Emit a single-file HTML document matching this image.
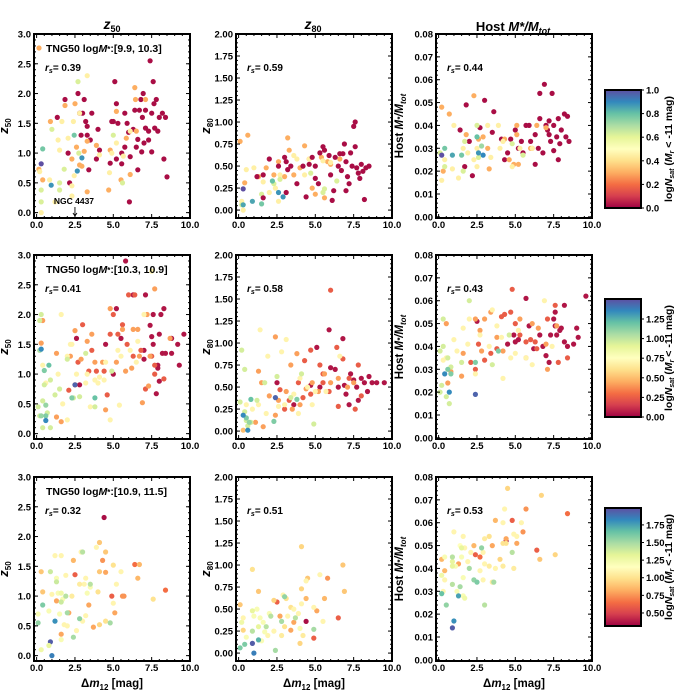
<!DOCTYPE html>
<html><head><meta charset="utf-8"><style>
html,body{margin:0;padding:0;background:#fff}
svg{display:block}
text{font-family:"Liberation Sans","DejaVu Sans",sans-serif;font-weight:bold;fill:#000}
</style></head><body>
<svg id="fig" width="696" height="696" viewBox="0 0 696 696" xmlns="http://www.w3.org/2000/svg"></svg>
<script>
// ---------- data ----------
const xTicks=[0,2.5,5,7.5,10];
const xTickLabels=["0.0","2.5","5.0","7.5","10.0"];
const z50Ticks=[0,0.5,1,1.5,2,2.5,3];
const z50Labels=["0.0","0.5","1.0","1.5","2.0","2.5","3.0"];
const z80Ticks=[0,0.25,0.5,0.75,1,1.25,1.5,1.75,2];
const z80Labels=["0.00","0.25","0.50","0.75","1.00","1.25","1.50","1.75","2.00"];
const fTicks=[0,0.01,0.02,0.03,0.04,0.05,0.06,0.07,0.08];
const fLabels=["0.00","0.01","0.02","0.03","0.04","0.05","0.06","0.07","0.08"];
const rowLabels=["TNG50 logM*:[9.9, 10.3]","TNG50 logM*:[10.3, 10.9]","TNG50 logM*:[10.9, 11.5]"];
const rsValues=[["0.39","0.59","0.44"],["0.41","0.58","0.43"],["0.32","0.51","0.53"]];
const cbarMin=[0,0,0.315];
const cbarMax=[1.0,1.505,1.99];
const cbarTicks=[[0,0.2,0.4,0.6,0.8,1.0],[0,0.25,0.5,0.75,1.0,1.25],[0.5,0.75,1.0,1.25,1.5,1.75]];
const cbarTickLabels=[["0.0","0.2","0.4","0.6","0.8","1.0"],["0.00","0.25","0.50","0.75","1.00","1.25"],["0.50","0.75","1.00","1.25","1.50","1.75"]];

// row 1 points [dm12, value, logNsat]
const r1z50=[[1.35,1.6,0.02],[1.85,1.9,0.02],[2.05,1.0,0.02],[2.7,2.0,0.02],[2.8,1.67,0.02],[3.0,1.67,0.02],[3.1,1.9,0.02],[3.2,1.53,0.02],[3.3,1.45,0.02],[3.6,1.67,0.02],[2.9,1.3,0.02],[3.3,1.3,0.02],[3.5,1.22,0.02],[3.4,0.72,0.02],[3.9,0.9,0.02],[4.0,1.4,0.02],[4.1,1.05,0.02],[4.8,0.83,0.02],[4.9,1.53,0.02],[5.1,2.2,0.02],[5.2,1.83,0.02],[5.0,1.53,0.02],[5.3,1.5,0.02],[5.55,1.0,0.02],[5.75,1.67,0.02],[5.9,1.5,0.02],[6.0,1.35,0.02],[6.05,0.18,0.02],[6.1,0.94,0.02],[6.3,1.4,0.02],[6.4,1.72,0.02],[6.5,1.1,0.02],[6.6,1.23,0.02],[6.7,1.72,0.02],[6.8,1.9,0.02],[6.9,1.6,0.02],[6.95,2.0,0.02],[7.0,1.17,0.02],[7.1,1.72,0.02],[7.1,1.42,0.02],[7.3,1.37,0.02],[7.4,2.55,0.02],[7.5,1.67,0.02],[7.6,2.2,0.02],[7.65,1.83,0.02],[7.7,1.42,0.02],[7.8,1.9,0.02],[7.9,1.37,0.02],[8.0,1.6,0.02],[8.2,1.67,0.02],[8.3,0.9,0.02],[8.4,1.6,0.02],[8.5,0.6,0.02],[6.6,0.72,0.02],[6.85,1.02,0.02],[5.55,0.82,0.02],[5.75,1.1,0.02],[2.15,0.5,0.02],[7.3,1.22,0.02],[7.5,1.02,0.02],[5.2,0.9,0.02],
[0.15,0.73,0.3],[0.4,0.55,0.3],[0.9,1.53,0.3],[1.85,1.8,0.3],[2.5,1.83,0.3],[2.6,1.1,0.3],[2.95,0.78,0.3],[3.3,1.2,0.3],[3.3,0.35,0.3],[3.9,1.13,0.3],[4.7,0.38,0.3],[5.2,1.7,0.3],[5.85,1.25,0.3],[6.1,0.64,0.3],[6.4,2.1,0.3],[6.5,1.37,0.3],[7.1,1.9,0.3],[6.45,1.9,0.3],[5.5,0.55,0.3],[2.3,0.9,0.3],[2.8,0.8,0.3],[3.1,1.03,0.3],[4.8,1.05,0.3],
[0.2,0.69,0.45],[0.3,0.0,0.45],[0.85,0.55,0.45],[1.4,1.22,0.45],[1.5,1.05,0.45],[1.65,1.53,0.45],[2.05,1.25,0.45],[2.3,0.45,0.45],[2.4,1.53,0.45],[2.8,1.67,0.45],[3.3,2.3,0.45],[4.1,0.97,0.45],[4.75,0.67,0.45],[4.9,1.0,0.45],[5.2,1.17,0.45],[5.65,0.95,0.45],[6.1,1.37,0.45],[1.2,0.18,0.45],[2.3,0.28,0.45],[2.45,0.62,0.45],
[0.3,0.18,0.62],[0.3,0.38,0.62],[1.0,1.4,0.62],[1.5,0.5,0.62],[1.8,0.73,0.62],[2.7,2.2,0.62],[2.75,1.0,0.62],[5.0,1.3,0.62],[5.6,0.5,0.62],[1.5,0.38,0.62],
[0.4,1.07,0.78],[2.45,1.3,0.78],[0.95,0.46,0.88],[2.95,0.92,0.88],[2.65,0.7,0.88],[0.3,0.82,1.0]];
const r1z80=[[0.1,0.78,0.3],[0.6,0.85,0.3],[0.4,0.31,0.3],[1.3,0.38,0.3],[1.8,0.48,0.3],[2.3,0.4,0.3],[2.6,0.55,0.3],[3.2,0.82,0.3],[3.0,0.38,0.3],[3.3,0.68,0.3],[4.0,0.48,0.3],[4.3,0.73,0.3],[4.8,0.25,0.3],[5.0,0.18,0.3],[5.4,0.6,0.3],[5.8,0.55,0.3],[6.0,0.52,0.3],[5.6,0.14,0.3],[4.6,0.58,0.3],[3.6,0.4,0.3],[6.6,0.58,0.3],
[0.3,0.0,0.45],[0.5,0.46,0.45],[1.0,0.48,0.45],[1.6,0.32,0.45],[2.0,0.2,0.45],[2.4,0.25,0.45],[2.7,0.4,0.45],[3.6,0.62,0.45],[4.3,0.4,0.45],[4.6,0.58,0.45],[5.5,0.56,0.45],[6.0,0.54,0.45],[2.6,0.1,0.45],[0.2,0.1,0.45],[3.8,0.58,0.45],
[0.2,0.06,0.62],[1.5,0.18,0.62],[2.3,0.3,0.62],[2.7,0.35,0.62],[5.5,0.2,0.62],[5.6,0.24,0.62],[6.4,0.33,0.62],[4.7,0.42,0.62],
[0.9,0.1,0.85],[2.2,0.33,0.8],[2.6,0.2,0.88],[2.9,0.15,0.88],[0.3,0.06,0.85],[1.5,0.07,0.78],[0.3,0.24,1.0],
[1.2,0.38,0.02],[1.6,0.4,0.02],[1.6,0.14,0.02],[2.0,0.58,0.02],[2.6,0.5,0.02],[3.0,0.6,0.02],[3.1,0.55,0.02],[3.2,0.46,0.02],[3.1,0.2,0.02],[3.4,0.5,0.02],[3.8,0.3,0.02],[4.2,0.5,0.02],[4.6,0.52,0.02],[4.8,0.6,0.02],[5.0,0.5,0.02],[5.3,0.65,0.02],[5.5,0.72,0.02],[5.6,0.68,0.02],[5.9,0.62,0.02],[6.0,0.4,0.02],[6.1,0.11,0.02],[6.3,0.6,0.02],[6.5,0.5,0.02],[6.6,0.64,0.02],[6.7,0.45,0.02],[6.8,0.64,0.02],[7.0,0.55,0.02],[7.1,0.38,0.02],[7.2,0.3,0.02],[7.3,0.65,0.02],[7.4,0.5,0.02],[7.5,0.95,0.02],[7.6,1.0,0.02],[7.7,0.48,0.02],[7.8,0.42,0.02],[7.9,0.36,0.02],[8.0,0.52,0.02],[8.1,0.44,0.02],[8.2,0.12,0.02],[8.3,0.48,0.02],[8.5,0.5,0.02],[6.9,0.75,0.02],[7.6,0.72,0.02],[5.2,0.3,0.02],[6.2,0.22,0.02],[7.0,0.22,0.02],[5.0,0.36,0.02],[4.4,0.15,0.02]];
const r1frac=[[1.4,0.038,0.02],[1.8,0.049,0.02],[2.0,0.033,0.02],[2.2,0.018,0.02],[3.0,0.051,0.02],[3.5,0.037,0.02],[3.6,0.046,0.02],[4.1,0.034,0.02],[4.3,0.025,0.02],[4.7,0.034,0.02],[5.0,0.038,0.02],[5.2,0.03,0.02],[5.5,0.028,0.02],[5.7,0.04,0.02],[5.9,0.04,0.02],[6.3,0.023,0.02],[6.3,0.036,0.02],[6.6,0.043,0.02],[6.6,0.054,0.02],[6.9,0.058,0.02],[7.0,0.04,0.02],[7.1,0.038,0.02],[7.2,0.036,0.02],[7.3,0.033,0.02],[7.4,0.054,0.02],[7.5,0.04,0.02],[7.5,0.029,0.02],[7.7,0.035,0.02],[7.8,0.043,0.02],[7.8,0.025,0.02],[7.9,0.032,0.02],[8.0,0.038,0.02],[8.2,0.045,0.02],[8.4,0.044,0.02],[8.5,0.033,0.02],[8.3,0.035,0.02],[6.8,0.028,0.02],[6.5,0.03,0.02],[7.2,0.042,0.02],[6.0,0.033,0.02],[5.4,0.033,0.02],[4.5,0.028,0.02],[1.7,0.022,0.02],[2.7,0.039,0.02],
[0.2,0.048,0.3],[0.7,0.045,0.3],[2.3,0.053,0.3],[1.8,0.036,0.3],[2.6,0.034,0.3],[2.9,0.035,0.3],[3.3,0.021,0.3],[3.2,0.03,0.3],[4.3,0.034,0.3],[4.6,0.025,0.3],[5.1,0.04,0.3],[5.1,0.036,0.3],[5.2,0.023,0.3],[4.9,0.023,0.3],[6.1,0.03,0.3],[6.4,0.04,0.3],[7.0,0.039,0.3],[6.0,0.03,0.3],[0.3,0.02,0.3],
[0.2,0.016,0.45],[0.4,0.025,0.45],[1.0,0.04,0.45],[1.6,0.03,0.45],[1.9,0.028,0.45],[2.3,0.025,0.45],[2.5,0.022,0.45],[2.5,0.03,0.45],[3.2,0.04,0.45],[3.9,0.04,0.45],[4.2,0.033,0.45],[4.8,0.022,0.45],[5.3,0.03,0.45],[6.1,0.03,0.45],[0.9,0.021,0.45],[1.3,0.017,0.45],[3.4,0.026,0.45],[4.0,0.03,0.45],
[0.1,0.028,0.62],[1.6,0.02,0.62],[1.7,0.033,0.62],[2.5,0.04,0.62],[5.5,0.027,0.62],[4.8,0.032,0.62],[0.4,0.022,0.62],[2.6,0.026,0.62],
[0.4,0.03,0.78],[1.5,0.027,0.78],[2.5,0.035,0.8],[2.8,0.031,0.72],[2.6,0.028,0.88],[2.9,0.027,0.9],[0.9,0.027,0.85],[0.2,0.027,1.0]];

const r2z50=[[2.6,1.6,0.05],[2.8,0.82,0.05],[4.5,1.5,0.05],[5.2,2.1,0.05],[5.0,1.0,0.05],[5.5,1.6,0.05],[5.8,2.9,0.05],[6.3,2.33,0.05],[7.1,2.33,0.05],[7.0,1.4,0.05],[7.4,1.82,0.05],[7.5,1.63,0.05],[7.6,2.0,0.05],[7.6,1.5,0.05],[7.8,0.67,0.05],[7.9,1.1,0.05],[8.0,1.67,0.05],[8.0,0.88,0.05],[8.1,2.0,0.05],[8.2,1.35,0.05],[8.3,2.1,0.05],[8.4,1.35,0.05],[8.8,1.35,0.05],[8.8,1.6,0.05],[9.2,1.5,0.05],[9.3,1.15,0.05],[9.6,1.67,0.05],[7.9,1.15,0.05],[7.0,1.25,0.05],
[2.5,0.82,0.25],[2.7,1.2,0.25],[3.0,1.83,0.25],[3.9,1.05,0.25],[4.4,1.05,0.25],[4.8,1.67,0.25],[4.6,0.65,0.25],[5.0,2.0,0.25],[5.3,1.67,0.25],[5.6,1.83,0.25],[5.9,1.5,0.25],[6.0,2.33,0.25],[6.4,2.33,0.25],[6.8,1.4,0.25],[7.1,0.75,0.25],[7.5,1.3,0.25],[7.7,1.0,0.25],[8.3,0.92,0.25],[3.4,1.05,0.25],[6.3,1.3,0.25],[2.1,0.73,0.25],[3.6,1.4,0.25],[7.7,1.15,0.25],
[0.3,1.52,0.42],[1.3,1.35,0.42],[2.5,1.73,0.42],[2.9,1.25,0.42],[3.3,1.55,0.42],[3.6,1.67,0.42],[4.3,1.2,0.42],[4.5,0.4,0.42],[4.8,2.1,0.42],[5.2,1.2,0.42],[5.6,1.75,0.42],[6.3,1.75,0.42],[6.6,1.75,0.42],[6.7,1.3,0.42],[7.2,2.0,0.42],[7.4,1.3,0.42],[7.7,2.43,0.42],[8.7,1.6,0.42],[6.9,0.52,0.42],[7.3,0.8,0.42],[1.3,0.28,0.42],[1.6,0.2,0.42],[0.4,1.9,0.42],[3.8,1.2,0.42],[2.2,1.3,0.42],[6.2,1.1,0.42],[5.8,1.05,0.42],
[0.4,1.15,0.7],[1.6,2.0,0.7],[2.0,1.3,0.7],[2.2,1.5,0.7],[2.6,1.0,0.7],[3.2,0.85,0.7],[3.8,0.9,0.7],[4.1,0.95,0.7],[4.5,1.2,0.7],[5.5,1.3,0.7],[6.1,1.4,0.7],[6.6,1.55,0.7],[7.0,2.0,0.7],[7.5,2.73,0.7],[1.7,0.5,0.7],[2.0,0.23,0.7],[3.5,0.45,0.7],[4.8,0.23,0.7],[5.4,0.48,0.7],[1.4,1.0,0.7],[2.3,1.5,0.7],[3.3,1.0,0.7],[0.6,0.85,0.7],[4.0,0.85,0.7],[5.3,1.4,0.7],[6.5,1.2,0.7],[4.4,0.9,0.7],
[0.1,0.45,0.95],[0.2,1.9,0.95],[0.3,2.0,0.95],[0.4,0.55,0.95],[0.5,0.82,0.95],[0.9,0.9,0.95],[1.2,0.65,0.95],[1.5,0.75,0.95],[2.0,1.25,0.95],[2.4,0.6,0.95],[2.8,0.62,0.95],[3.2,1.35,0.95],[3.8,0.45,0.95],[4.9,1.05,0.95],[0.2,0.3,0.95],[0.7,0.35,0.95],[0.9,0.1,0.95],[0.4,0.1,0.95],
[0.5,1.06,1.15],[0.6,0.48,1.1],[0.6,0.3,1.15],[0.8,1.15,1.2],[2.3,0.6,1.15],[3.8,0.6,1.2],[0.3,0.3,1.1],[0.2,1.4,1.05],[0.3,1.42,1.35],[0.6,0.22,1.35],[2.5,0.82,1.45]];
const r2z80=[[2.5,0.55,0.05],[4.7,0.52,0.05],[5.1,0.95,0.05],[5.3,0.5,0.05],[5.9,1.15,0.05],[6.0,0.72,0.05],[6.3,0.7,0.05],[6.8,1.05,0.05],[6.9,0.52,0.05],[7.0,0.42,0.05],[7.3,0.65,0.05],[7.5,0.58,0.05],[7.7,0.5,0.05],[7.8,0.35,0.05],[8.0,0.6,0.05],[8.2,0.55,0.05],[8.4,0.45,0.05],[8.5,0.62,0.05],[8.7,0.55,0.05],[9.0,0.55,0.05],[9.5,0.55,0.05],[7.2,0.3,0.05],[6.5,0.5,0.05],[3.6,0.3,0.05],
[4.3,0.8,0.25],[4.7,0.92,0.25],[5.3,0.75,0.25],[5.5,0.55,0.25],[6.0,1.6,0.25],[6.4,0.95,0.25],[6.8,0.82,0.25],[7.2,0.6,0.25],[7.8,0.75,0.25],[3.9,0.55,0.25],[3.3,0.35,0.25],[2.7,0.47,0.25],[4.2,0.38,0.25],[4.7,0.42,0.25],[5.9,0.45,0.25],[6.5,0.28,0.25],[7.6,0.25,0.25],[8.0,0.4,0.25],[3.0,0.25,0.25],[5.5,0.65,0.25],
[1.3,0.68,0.42],[1.5,0.55,0.42],[2.4,1.07,0.42],[2.0,0.4,0.42],[2.6,0.35,0.42],[3.1,0.45,0.42],[3.4,0.75,0.42],[3.8,0.88,0.42],[4.0,0.3,0.42],[4.4,0.48,0.42],[4.8,0.55,0.42],[5.2,0.45,0.42],[5.6,0.65,0.42],[6.0,0.55,0.42],[6.5,0.6,0.42],[7.1,0.5,0.42],[1.6,0.05,0.42],[2.4,0.18,0.42],[1.1,0.1,0.42],[0.3,0.01,0.5],[3.5,0.25,0.42],[7.5,0.55,0.42],
[1.4,1.15,0.7],[1.9,0.85,0.7],[2.8,0.9,0.7],[3.1,1.04,0.7],[3.0,0.3,0.7],[3.6,0.42,0.7],[4.0,0.6,0.7],[4.5,0.5,0.7],[5.0,0.45,0.7],[5.7,0.45,0.7],[6.6,0.85,0.7],[1.3,0.3,0.7],[1.8,0.2,0.7],[2.6,0.28,0.7],[3.9,0.2,0.7],[0.5,0.3,0.7],[0.9,0.25,0.7],[4.8,0.3,0.7],
[0.2,0.92,0.95],[0.4,0.7,0.95],[1.7,0.55,0.95],[2.5,0.62,0.95],[3.4,0.38,0.95],[4.1,0.65,0.95],[4.9,0.08,0.95],[0.1,0.33,0.95],[0.5,0.12,0.95],[0.8,0.1,0.95],[0.4,0.22,0.95],[1.2,0.35,0.95],[0.6,0.06,0.95],
[0.5,0.15,1.15],[0.7,0.1,1.1],[0.8,0.36,1.2],[2.3,0.11,1.15],[3.8,0.36,1.15],[0.3,0.18,1.35],[0.6,0.01,1.35],[2.4,0.38,1.45]];
const r2frac=[[2.5,0.051,0.05],[4.5,0.041,0.05],[4.9,0.045,0.05],[5.2,0.043,0.05],[5.7,0.061,0.05],[5.9,0.049,0.05],[6.2,0.039,0.05],[6.8,0.04,0.05],[7.0,0.036,0.05],[7.2,0.033,0.05],[7.3,0.045,0.05],[7.5,0.052,0.05],[7.6,0.055,0.05],[7.7,0.045,0.05],[7.9,0.047,0.05],[8.0,0.048,0.05],[8.2,0.058,0.05],[8.2,0.042,0.05],[8.4,0.04,0.05],[8.8,0.041,0.05],[9.0,0.048,0.05],[9.1,0.044,0.05],[9.6,0.062,0.05],[5.0,0.042,0.05],[6.6,0.045,0.05],[7.6,0.049,0.05],
[2.6,0.041,0.25],[4.1,0.053,0.25],[4.3,0.054,0.25],[4.7,0.055,0.25],[4.8,0.065,0.25],[5.3,0.045,0.25],[5.7,0.042,0.25],[6.0,0.043,0.25],[6.4,0.039,0.25],[7.1,0.052,0.25],[7.6,0.058,0.25],[8.4,0.035,0.25],[3.4,0.037,0.25],[3.8,0.039,0.25],[2.1,0.033,0.25],[3.0,0.034,0.25],[2.4,0.03,0.25],[5.0,0.05,0.25],[6.3,0.042,0.25],[7.8,0.033,0.25],
[0.5,0.05,0.42],[2.4,0.052,0.42],[2.7,0.047,0.42],[3.0,0.052,0.42],[3.4,0.055,0.42],[3.8,0.044,0.42],[4.2,0.038,0.42],[5.3,0.052,0.42],[6.1,0.05,0.42],[6.5,0.048,0.42],[7.0,0.041,0.42],[7.7,0.049,0.42],[1.6,0.037,0.42],[2.8,0.038,0.42],[1.5,0.027,0.42],[0.8,0.029,0.42],[0.6,0.024,0.42],[5.7,0.035,0.42],[7.1,0.03,0.42],
[0.3,0.034,0.7],[1.0,0.043,0.7],[1.6,0.048,0.7],[2.0,0.052,0.7],[2.7,0.045,0.7],[3.5,0.056,0.7],[3.8,0.049,0.7],[4.1,0.044,0.7],[4.7,0.035,0.7],[5.2,0.047,0.7],[5.7,0.035,0.7],[6.1,0.032,0.7],[6.9,0.06,0.7],[7.4,0.04,0.7],[4.2,0.026,0.7],[3.3,0.04,0.7],[1.9,0.041,0.7],[2.4,0.028,0.7],[0.5,0.035,0.7],[5.0,0.037,0.7],[1.2,0.038,0.7],
[0.3,0.052,0.95],[0.1,0.038,0.95],[0.3,0.04,0.95],[0.6,0.035,0.95],[0.5,0.018,0.95],[0.2,0.023,0.95],[1.5,0.033,0.95],[2.0,0.06,0.95],[3.5,0.032,0.95],[4.6,0.045,0.95],[0.8,0.031,0.95],[0.1,0.02,0.95],[0.7,0.015,0.95],
[0.6,0.03,1.15],[0.8,0.028,1.15],[2.4,0.033,1.15],[3.9,0.038,1.15],[0.4,0.028,1.35],[0.7,0.02,1.35],[2.4,0.019,1.45]];

const r3z50=[[4.4,2.32,0.35],[2.5,1.36,0.6],[4.9,1.0,0.6],[6.4,1.53,0.65],[8.4,1.1,0.65],[5.6,1.0,0.75],[5.7,1.0,0.75],[6.7,1.53,0.85],[6.6,1.3,0.85],[4.1,1.9,0.9],[4.5,1.74,0.9],[4.3,1.6,0.75],[4.5,1.4,0.8],[2.4,1.6,0.85],[1.6,0.36,0.8],[1.3,0.92,0.8],[3.4,0.85,0.8],[2.1,0.72,0.8],[3.7,0.48,0.8],[5.1,0.72,0.8],[0.3,1.41,0.9],[0.4,1.07,0.9],[4.1,1.41,0.9],[4.1,0.52,0.95],[5.0,1.52,1.0],[7.6,0.95,1.0],[5.5,1.41,1.1],[5.2,1.2,1.1],[5.0,0.88,1.1],[4.5,0.58,1.0],[3.9,1.82,1.1],[3.1,1.2,1.1],[3.2,1.3,1.1],[2.9,1.74,1.1],[2.8,1.2,1.05],[2.3,1.0,1.05],[1.6,1.68,1.1],[1.2,1.68,1.1],[1.0,1.03,1.1],[0.8,0.75,1.2],[1.5,0.7,1.2],[1.7,0.95,1.2],[2.0,0.5,1.1],[2.6,0.42,1.1],[3.0,0.58,1.1],[3.2,0.67,1.1],[1.6,0.27,1.2],[0.3,0.1,1.25],[0.1,0.7,1.2],[1.8,0.52,1.1],[1.3,1.3,1.2],[1.4,1.05,1.2],[1.9,1.35,1.1],[3.5,1.15,1.2],[4.0,1.07,1.0],[3.3,1.05,1.2],[1.6,1.05,1.25],[0.9,1.41,1.4],[1.3,1.24,1.4],[1.6,0.9,1.4],[3.0,1.74,1.45],[3.5,1.2,1.45],[1.9,1.0,1.45],[2.0,0.72,1.5],[2.8,0.62,1.55],[2.4,0.31,1.5],[4.8,0.55,1.5],[0.1,0.55,1.55],[0.4,0.85,1.6],[1.2,0.58,1.8],[0.9,0.23,1.95],[1.0,0.0,1.85],[0.8,0.17,1.3]];
const r3z80=[[4.4,0.36,0.35],[2.5,0.58,0.6],[4.9,0.17,0.6],[6.5,0.4,0.6],[5.8,0.85,0.75],[2.7,0.42,0.8],[3.4,0.26,0.8],[3.6,0.35,0.8],[5.1,0.48,0.8],[5.6,0.62,0.85],[6.8,1.0,0.9],[6.9,0.7,0.9],[4.1,1.21,0.95],[4.1,0.73,0.95],[4.5,0.85,0.9],[4.4,0.62,0.85],[4.0,0.11,0.95],[1.3,0.7,0.9],[0.1,0.55,0.9],[0.3,0.26,0.95],[0.9,0.95,1.0],[2.3,0.6,0.95],[3.4,0.52,1.0],[3.0,0.3,1.0],[3.1,0.62,1.0],[5.3,0.89,1.1],[4.9,0.52,1.1],[4.4,0.82,1.1],[4.1,0.56,1.1],[4.2,0.2,1.05],[5.5,0.36,1.1],[3.9,0.45,1.1],[2.9,0.66,1.1],[3.6,0.5,1.1],[2.0,0.45,1.2],[1.4,0.4,1.2],[1.6,0.35,1.2],[1.2,0.5,1.2],[1.0,0.42,1.2],[0.5,0.18,1.2],[0.2,0.35,1.25],[1.5,0.14,1.2],[1.9,0.2,1.1],[2.3,0.25,1.1],[2.8,0.2,1.05],[1.7,0.24,1.2],[3.2,0.42,1.1],[0.9,0.48,1.3],[1.3,0.3,1.3],[0.9,0.25,1.45],[2.1,0.42,1.45],[2.8,0.36,1.5],[3.0,0.64,1.55],[4.9,0.27,1.5],[1.8,0.3,1.45],[0.1,0.06,1.6],[0.4,0.1,1.6],[2.4,0.03,1.5],[1.3,0.15,1.7],[0.9,0.11,1.95],[1.0,0.0,1.85],[3.7,0.4,1.45],[4.0,0.28,1.2],[0.3,0.4,1.1]];
const r3frac=[[4.4,0.052,0.35],[4.8,0.061,0.6],[6.4,0.048,0.6],[8.4,0.064,0.65],[2.4,0.046,0.6],[2.7,0.045,0.65],[5.7,0.066,0.75],[5.5,0.056,0.75],[5.1,0.051,0.8],[4.4,0.053,0.8],[3.7,0.061,0.85],[3.5,0.05,0.8],[1.3,0.042,0.8],[0.2,0.044,0.85],[0.4,0.039,0.85],[2.3,0.05,0.85],[4.5,0.075,0.95],[6.7,0.072,0.95],[7.6,0.046,0.95],[6.6,0.044,0.9],[4.0,0.044,0.95],[4.2,0.051,1.0],[4.4,0.051,1.0],[3.3,0.054,1.0],[3.0,0.053,1.05],[4.3,0.066,1.1],[4.2,0.06,1.1],[4.9,0.055,1.1],[5.4,0.06,1.1],[5.1,0.054,1.1],[1.0,0.056,1.1],[1.6,0.054,1.1],[1.4,0.05,1.15],[1.7,0.049,1.1],[1.9,0.043,1.1],[2.1,0.047,1.1],[2.9,0.047,1.1],[2.7,0.039,1.1],[3.0,0.042,1.1],[3.3,0.041,1.05],[3.5,0.034,1.05],[3.7,0.04,1.1],[4.2,0.041,1.05],[4.9,0.04,1.05],[2.9,0.035,1.1],[0.4,0.035,1.1],[0.3,0.03,1.1],[1.1,0.041,1.2],[1.5,0.045,1.2],[1.6,0.036,1.2],[1.6,0.028,1.2],[1.7,0.027,1.25],[1.2,0.03,1.2],[0.2,0.037,1.25],[0.4,0.045,1.2],[0.9,0.043,1.3],[0.9,0.041,1.3],[1.5,0.049,1.3],[0.9,0.045,1.45],[0.9,0.033,1.45],[1.4,0.032,1.5],[2.0,0.04,1.5],[2.3,0.035,1.55],[2.5,0.034,1.6],[2.8,0.049,1.55],[3.0,0.024,1.45],[3.6,0.034,1.5],[4.8,0.047,1.45],[0.5,0.024,1.55],[0.2,0.029,1.65],[1.3,0.028,1.75],[1.0,0.017,1.8],[0.9,0.014,1.95]];

// ---------- rendering ----------
const NS="http://www.w3.org/2000/svg";
const svg=document.getElementById('fig');
function mk(tag,attrs,parent){const e=document.createElementNS(NS,tag);for(const k in attrs)e.setAttribute(k,attrs[k]);(parent||svg).appendChild(e);return e;}
const SPEC=["#9e0142","#d53e4f","#f46d43","#fdae61","#fee08b","#ffffbf","#e6f598","#abdda4","#66c2a5","#3288bd","#5e4fa2"];
function hex(h){return [parseInt(h.substr(1,2),16),parseInt(h.substr(3,2),16),parseInt(h.substr(5,2),16)];}
function cmap(t){t=Math.max(0,Math.min(1,t));const p=t*10;const i=Math.min(9,Math.floor(p));const f=p-i;const a=hex(SPEC[i]),b=hex(SPEC[i+1]);return "rgb("+a.map((v,k)=>Math.round(v+(b[k]-v)*f)).join(",")+")";}

const colL=[34,236,436], W=156;
const rowT=[34,255,477], H=184;
const xDom=[-0.17,10.0];
const yDoms=[[-0.09,3.0],[-0.09,2.0],[-0.0005,0.08]];
const yTicksAll=[z50Ticks,z80Ticks,fTicks];
const yLabAll=[z50Labels,z80Labels,fLabels];
const yMinorStep=[0.1,0.05,0.002];
const panelData=[[r1z50,r1z80,r1frac],[r2z50,r2z80,r2frac],[r3z50,r3z80,r3frac]];
const colNames=["z50","z80","mass-ratio"];

function title(x,y,parts,name){const t=mk('text',{x:x,y:y,'text-anchor':'middle','font-size':'13'});
 parts.forEach(p=>{const s=mk('tspan',p.a||{},t);s.textContent=p.t;});return t;}
title(112,29,[{t:"z",a:{'font-style':'italic','font-size':'14'}},{t:"50",a:{'font-size':'9',dy:'3'}}],'title-z50');
title(313,29,[{t:"z",a:{'font-style':'italic','font-size':'14'}},{t:"80",a:{'font-size':'9',dy:'3'}}],'title-z80');
title(513,31,[{t:"Host "},{t:"M",a:{'font-style':'italic'}},{t:"*",a:{'font-style':'italic'}},{t:"/M",a:{'font-style':'italic'}},{t:"tot",a:{'font-size':'9',dy:'3','font-style':'italic'}}],'title-host-mass-ratio');

for(let r=0;r<3;r++){
 for(let c=0;c<3;c++){
  const L=colL[c],T=rowT[r],yd=yDoms[c];
  const g=mk('g',{});
  
  
  const sx=v=>L+(v-xDom[0])/(xDom[1]-xDom[0])*W;
  const sy=v=>T+H-(v-yd[0])/(yd[1]-yd[0])*H;
  const pts=panelData[r][c];
  pts.forEach(p=>{
   const cc=cmap((p[2]-cbarMin[r])/(cbarMax[r]-cbarMin[r]));
   const d=mk('circle',{cx:sx(p[0]).toFixed(1),cy:sy(p[1]).toFixed(1),r:2.6,fill:cc},g);
   
   
  });
  const tg=mk('g',{stroke:'#000','stroke-width':1},g);
  for(let v=0;v<=10.001;v+=0.5){const X=sx(v);const maj=Math.abs(v/2.5-Math.round(v/2.5))<1e-6;const len=maj?4:2;
   mk('line',{x1:X,y1:T+H,x2:X,y2:T+H-len},tg);mk('line',{x1:X,y1:T,x2:X,y2:T+len},tg);}
  const yt=yTicksAll[c];
  for(let v=0;v<=yt[yt.length-1]+1e-9;v+=yMinorStep[c]){const Y=sy(v);mk('line',{x1:L,y1:Y,x2:L+2,y2:Y},tg);mk('line',{x1:L+W,y1:Y,x2:L+W-2,y2:Y},tg);}
  yt.forEach((v,i)=>{const Y=sy(v);mk('line',{x1:L,y1:Y,x2:L+4,y2:Y},tg);mk('line',{x1:L+W,y1:Y,x2:L+W-4,y2:Y},tg);
   const tl=mk('text',{x:L-3,y:Y+3.5,'text-anchor':'end','font-size':'9.5'},g);tl.textContent=yLabAll[c][i];
   });
  xTicks.forEach((v,i)=>{const tl=mk('text',{x:sx(v),y:T+H+10,'text-anchor':'middle','font-size':'9.5'},g);tl.textContent=xTickLabels[i];
   });
  const fr=mk('rect',{x:L,y:T,width:W,height:H,fill:'none',stroke:'#000','stroke-width':2},g);
  
  const rs=mk('text',{x:L+11,y:T+37,'font-size':'10'},g);
  
  const a=mk('tspan',{'font-style':'italic'},rs);a.textContent='r';
  const b=mk('tspan',{'font-size':'7',dy:'2','font-style':'italic'},rs);b.textContent='s';
  const d2=mk('tspan',{dy:'-2'},rs);d2.textContent='= '+rsValues[r][c];
  const yx=L-(c==2?33:26), yc=T+H/2;
  const yl=mk('text',{x:yx,y:yc,'text-anchor':'middle','font-size':'11.5',transform:'rotate(-90 '+yx+' '+yc+')'},g);
  
  if(c<2){const s1=mk('tspan',{'font-style':'italic','font-size':'13'},yl);s1.textContent='z';const s2=mk('tspan',{'font-size':'8',dy:'3'},yl);s2.textContent=c==0?'50':'80';}
  else{const s1=mk('tspan',{},yl);s1.textContent='Host ';const s2=mk('tspan',{'font-style':'italic'},yl);s2.textContent='M';const s3=mk('tspan',{'font-style':'italic','font-size':'8'},yl);s3.textContent='*';
   const s4=mk('tspan',{'font-style':'italic'},yl);s4.textContent='/M';const s5=mk('tspan',{'font-style':'italic','font-size':'8',dy:'3'},yl);s5.textContent='tot';}
  if(r==2){const xl=mk('text',{x:L+W/2,y:T+H+26,'text-anchor':'middle','font-size':'11.5'},g);
   
   const s1=mk('tspan',{},xl);s1.textContent='Δ';const s2=mk('tspan',{'font-style':'italic'},xl);s2.textContent='m';
   const s3=mk('tspan',{'font-size':'8',dy:'3'},xl);s3.textContent='12';const s4=mk('tspan',{dy:'-3'},xl);s4.textContent=' [mag]';}
  if(c==0){const ty=T+18;
   if(r==0){const dot=mk('circle',{cx:L+5,cy:ty-4,r:2.6,fill:'#fdae61'},g);}
   const lt=mk('text',{x:L+12,y:ty,'font-size':'10.5'},g);
   const parts=rowLabels[r].split('M*');
   const p1=mk('tspan',{},lt);p1.textContent=parts[0];
   const p2=mk('tspan',{'font-style':'italic'},lt);p2.textContent='M';
   const p3=mk('tspan',{'font-size':'8'},lt);p3.textContent='*';
   const p4=mk('tspan',{},lt);p4.textContent=parts[1];
   if(r==0){const n=mk('text',{x:sx(2.5)-1,y:T+H-14,'text-anchor':'middle','font-size':'8.5'},g);n.textContent='NGC 4437';
    
    const ar=mk('path',{d:'M'+sx(2.5)+' '+(T+H-11)+' V'+(T+H-2)+' M'+(sx(2.5)-2)+' '+(T+H-5)+' L'+sx(2.5)+' '+(T+H-2)+' L'+(sx(2.5)+2)+' '+(T+H-5),stroke:'#000','stroke-width':0.9,fill:'none'},g);
    }
  }
 }
 const cbT=[90,299,508][r], cbL=605, cbW=36, cbH=118;
 const cg=mk('g',{});
 const gid='cg'+r;const defs=mk('defs',{},cg);const lg=mk('linearGradient',{id:gid,x1:0,y1:1,x2:0,y2:0},defs);
 SPEC.forEach((col,i)=>mk('stop',{offset:(i/10),'stop-color':col},lg));
 mk('rect',{x:cbL,y:cbT,width:cbW,height:cbH,fill:'url(#'+gid+')',stroke:'#000','stroke-width':2},cg);
 cbarTicks[r].forEach((v,i)=>{const Y=cbT+cbH-(v-cbarMin[r])/(cbarMax[r]-cbarMin[r])*cbH;
  mk('line',{x1:cbL+cbW,y1:Y,x2:cbL+cbW+3,y2:Y,stroke:'#000','stroke-width':1},cg);
  const t=mk('text',{x:cbL+cbW+5,y:Y+3.5,'font-size':'9.5'},cg);t.textContent=cbarTickLabels[r][i];
  });
 const lx=672, ly=cbT+cbH/2;
 const cl=mk('text',{x:lx,y:ly,'text-anchor':'middle','font-size':'10.5',transform:'rotate(-90 '+lx+' '+ly+')'},cg);
 
 const q1=mk('tspan',{},cl);q1.textContent='log';const q2=mk('tspan',{'font-style':'italic'},cl);q2.textContent='N';
 const q3=mk('tspan',{'font-size':'7',dy:'2','font-style':'italic'},cl);q3.textContent='sat';
 const q4=mk('tspan',{dy:'-2'},cl);q4.textContent=' (';const q5=mk('tspan',{'font-style':'italic'},cl);q5.textContent='M';
 const q6=mk('tspan',{'font-size':'7',dy:'2','font-style':'italic'},cl);q6.textContent='r';
 const q7=mk('tspan',{dy:'-2'},cl);q7.textContent=' < -11 mag)';
}
</script>
</body></html>
